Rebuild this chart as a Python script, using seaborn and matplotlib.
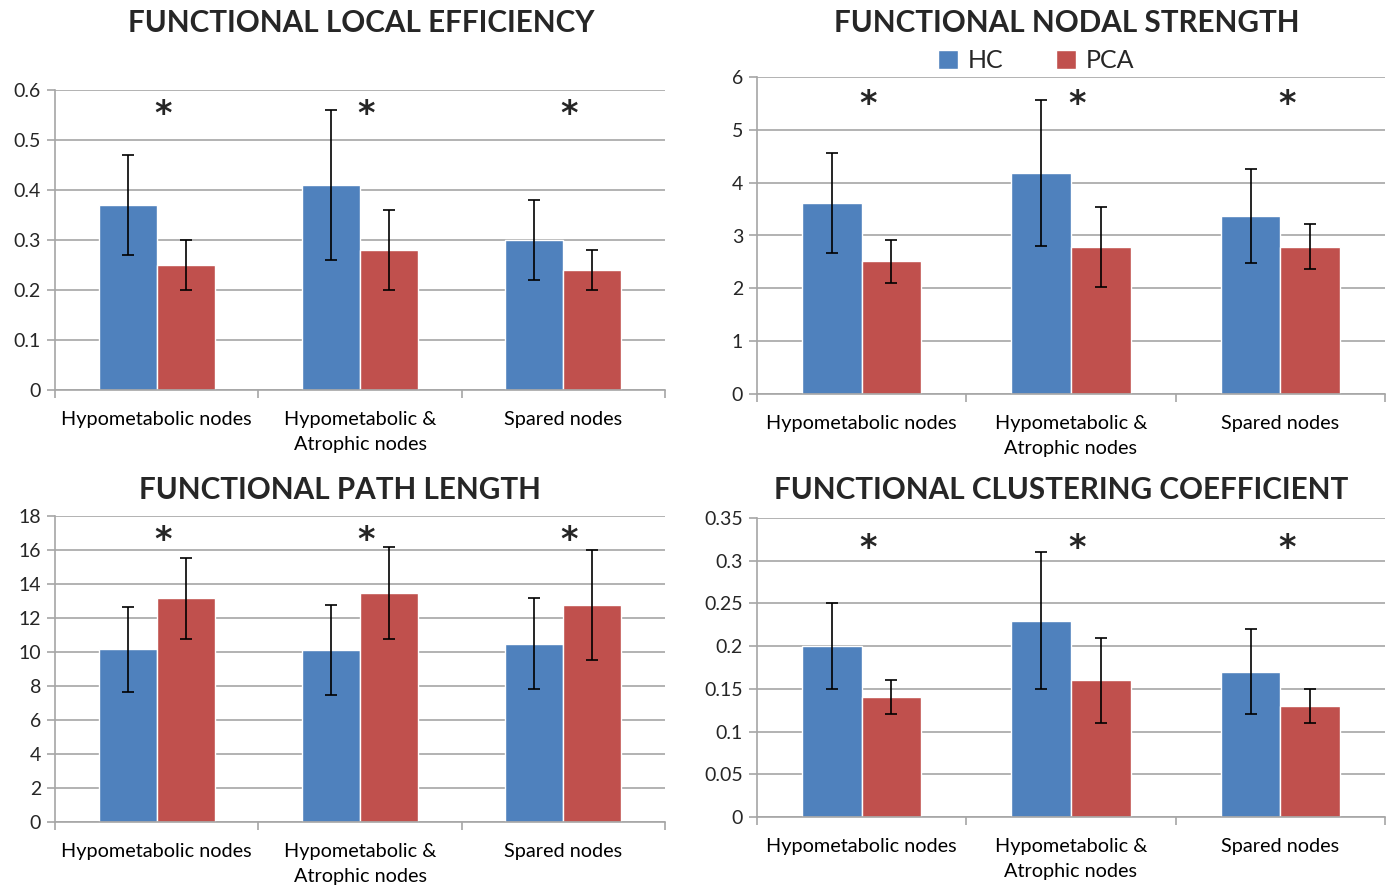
import pandas as pd
import numpy as np
import matplotlib
matplotlib.use("Agg")
import matplotlib.pyplot as plt
import seaborn as sns

CATEGORIES = ["Hypometabolic nodes", "Hypometabolic &\nAtrophic nodes", "Spared nodes"]
GROUPS = ["HC", "PCA"]

TITLES = ["FUNCTIONAL LOCAL EFFICIENCY", "FUNCTIONAL NODAL STRENGTH",
          "FUNCTIONAL PATH LENGTH", "FUNCTIONAL CLUSTERING COEFFICIENT"]

# local efficiency
LE_HC = [0.37, 0.41, 0.30]
LE_HC_ERR = [0.10, 0.15, 0.08]
LE_PCA = [0.25, 0.28, 0.24]
LE_PCA_ERR = [0.05, 0.08, 0.04]

# nodal strength
NS_HC = [3.61, 4.19, 3.37]
NS_HC_ERR = [0.95, 1.38, 0.89]
NS_PCA = [2.51, 2.78, 2.79]
NS_PCA_ERR = [0.40, 0.75, 0.42]

# path length
PL_HC = [10.15, 10.10, 10.50]
PL_HC_ERR = [2.50, 2.65, 2.70]
PL_PCA = [13.15, 13.47, 12.76]
PL_PCA_ERR = [2.40, 2.70, 3.22]

# clustering coefficient
CC_HC = [0.20, 0.23, 0.17]
CC_HC_ERR = [0.05, 0.08, 0.05]
CC_PCA = [0.14, 0.16, 0.13]
CC_PCA_ERR = [0.02, 0.05, 0.02]

YMAX = [0.6, 6, 18, 0.35]
YSTEP = [0.1, 1, 2, 0.05]
STAR_Y = [0.564, 5.6, 16.9, 0.322]

COLORS = {"HC": "#4F81BD", "PCA": "#C0504D"}
GRID = "#A6A6A6"


def make_df(hc, pca):
    return pd.DataFrame({
        "node": CATEGORIES * 2,
        "group": ["HC"] * 3 + ["PCA"] * 3,
        "value": hc + pca,
    })


def main():
    sns.set_style("white")
    plt.rcParams["font.family"] = ["Lato", "DejaVu Sans"]

    fig = plt.figure(figsize=(13.92, 8.88), dpi=100)
    W, H = 1392, 888
    # pixel boxes: left, top, right, bottom
    boxes = [(55, 90, 665, 390), (757, 77, 1385, 394),
             (55, 516, 665, 822), (757, 518, 1385, 817)]
    title_pos = [(361, 23), (1067, 23), (340, 490), (1061, 490)]

    datasets = [(LE_HC, LE_HC_ERR, LE_PCA, LE_PCA_ERR),
                (NS_HC, NS_HC_ERR, NS_PCA, NS_PCA_ERR),
                (PL_HC, PL_HC_ERR, PL_PCA, PL_PCA_ERR),
                (CC_HC, CC_HC_ERR, CC_PCA, CC_PCA_ERR)]

    for i, (hc, hce, pca, pcae) in enumerate(datasets):
        l, t, r, b = boxes[i]
        ax = fig.add_axes([l / W, 1 - b / H, (r - l) / W, (b - t) / H])
        df = make_df(hc, pca)
        sns.barplot(data=df, x="node", y="value", hue="group", palette=COLORS,
                    order=CATEGORIES, hue_order=GROUPS, width=0.57, gap=0,
                    errorbar=None, saturation=1, ax=ax, legend=(i == 1),
                    zorder=2)

        # error bars at the bar centres
        errs = hce + pcae
        bars = [p for p in ax.patches if p.get_height() > 0][:6]
        xs = [p.get_x() + p.get_width() / 2 for p in bars]
        ys = [p.get_height() for p in bars]
        ax.errorbar(xs, ys, yerr=errs, fmt="none", ecolor="black",
                    elinewidth=1.2, capsize=4, capthick=1.2, zorder=3)

        for k in range(3):
            ax.annotate("*", xy=(k + 0.03, STAR_Y[i]), xytext=(0, -4.5),
                        textcoords="offset points", ha="center", va="center",
                        fontsize=24, fontweight="bold", family="DejaVu Sans")

        ax.set_xlim(-0.5, 2.5)
        ax.set_ylim(0, YMAX[i])
        ticks = np.round(np.arange(0, YMAX[i] + YSTEP[i] / 2, YSTEP[i]), 3)
        ax.set_yticks(ticks)
        ax.set_yticklabels([f"{v:g}" for v in ticks])
        ax.yaxis.grid(True, color=GRID, linewidth=1.2, zorder=0)
        ax.set_axisbelow(True)
        ax.set_xlabel("")
        ax.set_ylabel("")

        ax.set_xticks([-0.5, 0.5, 1.5, 2.5], minor=True)
        ax.tick_params(axis="x", which="major", length=0, labelsize=14.3,
                       pad=15, colors="black")
        ax.tick_params(axis="x", which="minor", length=6, color=GRID, width=1.2,
                       direction="out", bottom=True)
        ax.tick_params(axis="y", length=6, color=GRID, width=1.2,
                       direction="out", left=True, labelsize=14, pad=4)
        for lab in ax.get_xticklabels():
            lab.set_linespacing(1.6)

        for side in ["top", "right"]:
            ax.spines[side].set_visible(False)
        for side in ["left", "bottom"]:
            ax.spines[side].set_color(GRID)
            ax.spines[side].set_linewidth(1.2)

        tx, ty = title_pos[i]
        fig.text(tx / W, 1 - ty / H, TITLES[i],
                 ha="center", va="center", fontsize=21.3, fontweight="bold")

        if i == 1:
            ax.legend(title=None, loc="lower center", bbox_to_anchor=(0.444, 0.985),
                      ncol=2, frameon=False, fontsize=18, handlelength=0.8,
                      handleheight=0.8, columnspacing=2.1, handletextpad=0.4,
                      borderaxespad=0)

    fig.savefig("out.png", dpi=100)
    plt.close(fig)


if __name__ == "__main__":
    main()
